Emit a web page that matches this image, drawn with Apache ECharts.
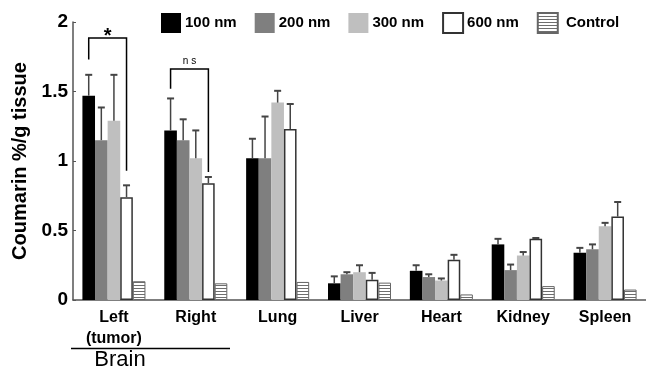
<!DOCTYPE html>
<html>
<head>
<meta charset="utf-8">
<script src="https://cdn.jsdelivr.net/npm/echarts@6/dist/echarts.min.js"></script>
<style>
html,body{margin:0;padding:0;background:#fff;}
#chart{width:646px;height:366px;}
</style>
</head>
<body>
<div id="chart"></div>
<script>
// ---- data ----
const categories = ['Left\n(tumor)', 'Right', 'Lung', 'Liver', 'Heart', 'Kidney', 'Spleen'];
const seriesNames = ['100 nm', '200 nm', '300 nm', '600 nm', 'Control'];
const v100 = [1.47, 1.22, 1.02, 0.12, 0.21, 0.40, 0.34];
const e100 = [0.15, 0.23, 0.14, 0.05, 0.04, 0.04, 0.035];
const v200 = [1.15, 1.15, 1.02, 0.185, 0.165, 0.215, 0.365];
const e200 = [0.235, 0.15, 0.30, 0.015, 0.02, 0.04, 0.035];
const v300 = [1.29, 1.02, 1.42, 0.20, 0.14, 0.32, 0.53];
const e300 = [0.33, 0.20, 0.085, 0.05, 0.015, 0.025, 0.025];
const v600 = [0.74, 0.84, 1.23, 0.145, 0.29, 0.44, 0.60];
const e600 = [0.085, 0.045, 0.18, 0.05, 0.035, 0.006, 0.105];
const vCtl = [0.135, 0.12, 0.13, 0.125, 0.04, 0.10, 0.075];
const yTicks = [0, 0.5, 1, 1.5, 2];
// significance brackets: [category, fromBar, toBar, topValue, leftLegBottom, rightLegBottom]
const brackets = [[0, 0, 3, 1.885, 1.73, 0.93], [1, 0, 3, 1.662, 1.52, 0.92]];
const bracketLabels = ['*', 'n s'];
const groupLabel = 'Brain';

// ---- styles ----
const BAR_FRAC = 0.154;
const stripe = document.createElement('canvas');
stripe.width = 4; stripe.height = 3;
(function(){
  const c = stripe.getContext('2d');
  c.fillStyle = '#ffffff'; c.fillRect(0, 0, 4, 3);
  c.fillStyle = '#6e6e6e'; c.fillRect(0, 0, 4, 1);
})();
const barStyles = [
  {color: '#000000'},
  {color: '#7f7f7f'},
  {color: '#bfbfbf'},
  {color: '#ffffff', borderColor: '#333333', borderWidth: 1.5},
  {color: {image: stripe, repeat: 'repeat'}, borderColor: '#666666', borderWidth: 1}
];
const values = [v100, v200, v300, v600, vCtl];
const errors = [e100, e200, e300, e600, null];

const errData = [];
errors.forEach((arr, k) => {
  if (!arr) return;
  arr.forEach((e, i) => errData.push([i, k, values[k][i], e]));
});

function renderErr(params, api) {
  const cat = api.value(0), k = api.value(1), val = api.value(2), err = api.value(3);
  const band = api.size([1, 0])[0];
  const bw = band * BAR_FRAC;
  const base = api.coord([cat, val]);
  const top = api.coord([cat, val + err]);
  const x = base[0] + (k - 2) * bw;
  return {type: 'group', children: [
    {type: 'line', shape: {x1: x, y1: base[1], x2: x, y2: top[1]}, style: {stroke: '#444', lineWidth: 1.5}},
    {type: 'line', shape: {x1: x - 3.5, y1: top[1], x2: x + 3.5, y2: top[1]}, style: {stroke: '#444', lineWidth: 2}}
  ]};
}

function renderBracket(params, api) {
  const cat = api.value(0), a = api.value(1), b = api.value(2);
  const band = api.size([1, 0])[0];
  const bw = band * BAR_FRAC;
  const c = api.coord([cat, api.value(3)]);
  const yl = api.coord([cat, api.value(4)])[1];
  const yr = api.coord([cat, api.value(5)])[1];
  const x1 = c[0] + (a - 2) * bw, x2 = c[0] + (b - 2) * bw;
  const lab = bracketLabels[params.dataIndex];
  const star = lab === '*';
  return {type: 'group', children: [
    {type: 'polyline', shape: {points: [[x1, yl], [x1, c[1]], [x2, c[1]], [x2, yr]]},
     style: {stroke: '#000', lineWidth: 1.5, fill: null}},
    {type: 'text', x: (x1 + x2) / 2, y: star ? c[1] + 8 : c[1] - 3,
     style: {text: lab, textAlign: 'center', textVerticalAlign: 'bottom',
       font: star ? 'bold 20px "Liberation Sans", Arial, sans-serif' : '10px "Liberation Sans", Arial, sans-serif',
       fill: '#000'}}
  ]};
}

const chart = echarts.init(document.getElementById('chart'), null, {renderer: 'canvas'});
const FONT = '"Liberation Sans", Arial, sans-serif';
chart.setOption({
  animation: false,
  backgroundColor: '#ffffff',
  grid: {left: 73, right: -3, top: 22, bottom: 66, containLabel: false},
  legend: {
    data: seriesNames, left: 161, top: 12, padding: 0,
    itemWidth: 20, itemHeight: 20, itemGap: 18, icon: 'rect',
    formatter: n => n === 'Control' ? ' ' + n : n,
    textStyle: {fontFamily: FONT, fontWeight: 'bold', fontSize: 15, color: '#000', padding: [0, 0, 0, -1]}
  },
  xAxis: {
    type: 'category', data: categories,
    axisLine: {lineStyle: {color: '#555', width: 1.5}},
    axisTick: {inside: true, length: 3, lineStyle: {color: '#555'}},
    axisLabel: {fontFamily: FONT, fontWeight: 'bold', fontSize: 16, color: '#000', margin: 7, lineHeight: 21, interval: 0}
  },
  yAxis: {
    type: 'value', min: yTicks[0], max: yTicks[yTicks.length - 1], interval: 0.5,
    name: 'Coumarin %/g tissue', nameLocation: 'middle', nameGap: 40,
    nameTextStyle: {fontFamily: FONT, fontWeight: 'bold', fontSize: 20, color: '#000'},
    axisLine: {show: true, lineStyle: {color: '#555', width: 1.5}},
    axisTick: {show: true, inside: true, length: 3, lineStyle: {color: '#555'}},
    splitLine: {show: false},
    axisLabel: {fontFamily: FONT, fontWeight: 'bold', fontSize: 19, color: '#000', margin: 5,
      formatter: v => String(v)}
  },
  series: seriesNames.map((n, k) => ({
    name: n, type: 'bar', data: values[k], barWidth: (BAR_FRAC * 100) + '%', barGap: '0%',
    itemStyle: barStyles[k]
  })).concat([
    {type: 'custom', renderItem: renderErr, data: errData, z: 5, clip: false,
     encode: {x: 0, y: 2}, silent: true},
    {type: 'custom', renderItem: renderBracket, data: brackets, z: 6, clip: false,
     encode: {x: 0, y: 3}, silent: true}
  ]),
  graphic: [
    {type: 'line', shape: {x1: 71, y1: 348.5, x2: 230, y2: 348.5}, style: {stroke: '#000', lineWidth: 1.5}},
    {type: 'text', x: 120, y: 349, style: {text: groupLabel, textAlign: 'center', textVerticalAlign: 'top',
      font: '22px ' + FONT, fill: '#000'}}
  ]
});
</script>
</body>
</html>
